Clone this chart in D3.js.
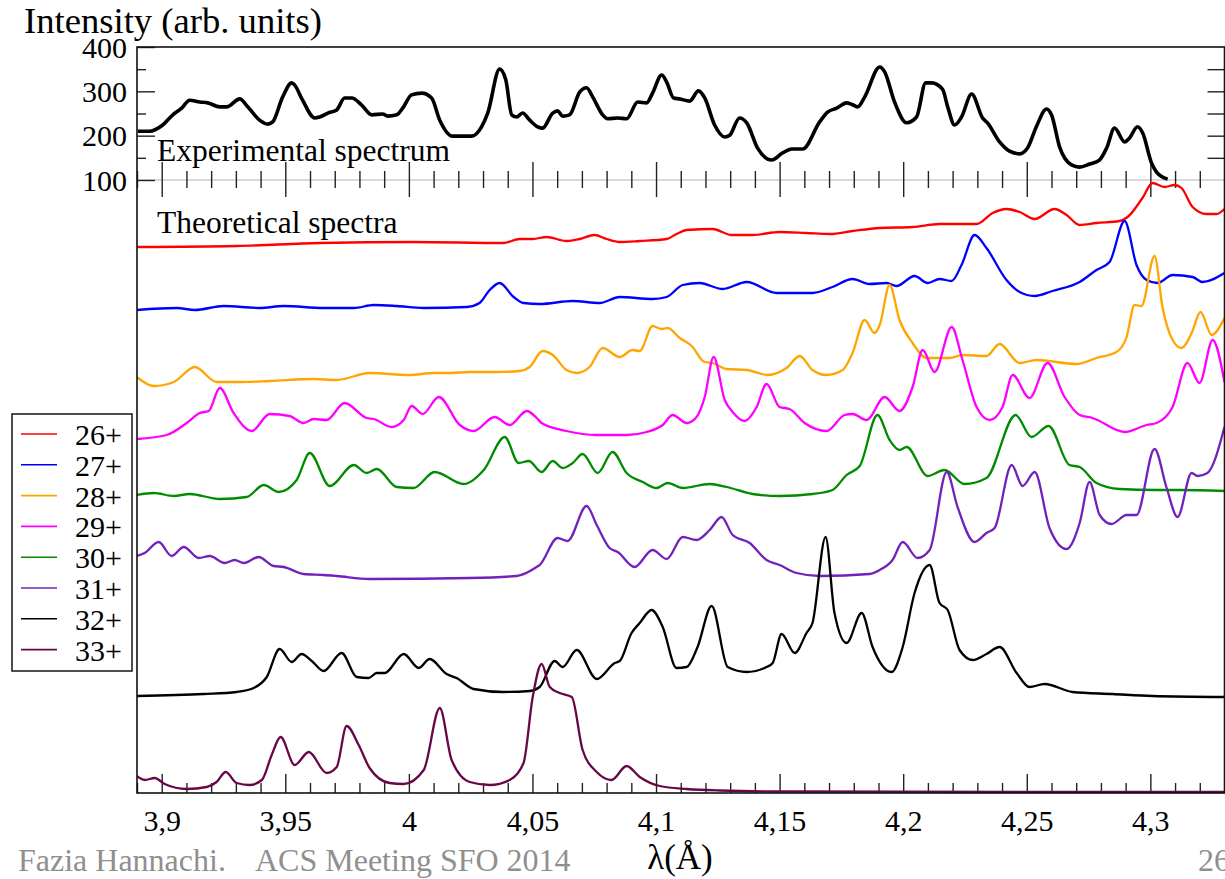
<!DOCTYPE html>
<html>
<head>
<meta charset="utf-8">
<script src="https://cdn.jsdelivr.net/npm/d3@7"></script>
<style>
  html, body { margin: 0; padding: 0; background: #fff; overflow: hidden; }
  svg { display: block; font-family: "Liberation Serif", "Times New Roman", serif; }
</style>
</head>
<body>
<svg id="chart" width="1225" height="879"></svg>
<script>
// ---- Experimental spectrum: [wavelength (Å), intensity (arb. units)] ----
const expSpectrum = [
  [3.8903,210],[3.8951,210],[3.9004,224],[3.9045,247],[3.9081,262],[3.9113,280],[3.9154,276],[3.9186,274],
  [3.9235,265],[3.9263,265],[3.9316,283],[3.9348,265],[3.9396,235],[3.9429,226],[3.9449,231],[3.9489,287],
  [3.9526,319],[3.9538,314],[3.9570,280],[3.9619,240],[3.9639,242],[3.9672,251],[3.9708,258],[3.9740,285],
  [3.9769,285],[3.9809,269],[3.9850,247],[3.9894,249],[3.9914,244],[3.9951,247],[3.9975,262],[4.0011,292],
  [4.0052,296],[4.0092,285],[4.0125,235],[4.0177,199],[4.0254,199],[4.0294,220],[4.0319,251],[4.0367,350],
  [4.0392,326],[4.0416,247],[4.0436,242],[4.0460,251],[4.0489,235],[4.0521,220],[4.0541,217],[4.0582,251],
  [4.0602,256],[4.0622,244],[4.0650,247],[4.0691,298],[4.0719,308],[4.0744,287],[4.0784,247],[4.0804,238],
  [4.0845,240],[4.0881,238],[4.0926,276],[4.0962,274],[4.0986,296],[4.1023,337],[4.1043,321],[4.1071,285],
  [4.1095,283],[4.1136,278],[4.1172,301],[4.1197,285],[4.1237,224],[4.1278,197],[4.1298,201],[4.1338,240],
  [4.1367,229],[4.1411,172],[4.1468,145],[4.1512,161],[4.1549,170],[4.1593,170],[4.1662,231],[4.1694,253],
  [4.1731,262],[4.1771,274],[4.1791,271],[4.1816,265],[4.1844,287],[4.1905,355],[4.1925,344],[4.1965,276],
  [4.2014,229],[4.2054,242],[4.2091,319],[4.2115,319],[4.2159,305],[4.2180,265],[4.2208,224],[4.2236,242],
  [4.2277,294],[4.2321,240],[4.2341,229],[4.2390,186],[4.2430,165],[4.2471,159],[4.2503,172],[4.2540,222],
  [4.2580,260],[4.2600,247],[4.2633,174],[4.2681,134],[4.2714,129],[4.2754,136],[4.2794,145],[4.2823,172],
  [4.2855,217],[4.2896,186],[4.2916,195],[4.2948,220],[4.2969,206],[4.3005,138],[4.3025,118],[4.3070,102]
];

// ---- Theoretical spectra: [wavelength (Å), intensity above the curve's own baseline] ----
const ion26 = [
  [3.8899,0],[3.9303,1],[3.9639,4],[4.0019,5],[4.0383,4],[4.0448,8],[4.0501,8],[4.0557,10],[4.0638,6],
  [4.0691,8],[4.0752,12],[4.0800,8],[4.0853,5],[4.0934,6],[4.1043,8],[4.1083,13],[4.1124,17],[4.1229,18],
  [4.1306,12],[4.1391,12],[4.1500,15],[4.1609,14],[4.1702,13],[4.1795,16],[4.1905,19],[4.2038,20],
  [4.2147,23],[4.2297,23],[4.2362,34],[4.2418,38],[4.2471,35],[4.2532,28],[4.2612,38],[4.2661,32],
  [4.2714,22],[4.2782,24],[4.2875,26],[4.2908,30],[4.2968,49],[4.3009,64],[4.3057,60],[4.3098,62],
  [4.3126,59],[4.3171,40],[4.3227,33],[4.3268,33],[4.3300,38]
];
const ion27 = [
  [3.8899,0],[3.9061,2],[3.9134,0],[3.9251,4],[3.9396,2],[3.9494,4],[3.9655,2],[3.9777,2],[3.9858,5],
  [3.9951,4],[4.0060,2],[4.0234,3],[4.0286,7],[4.0327,20],[4.0367,27],[4.0424,13],[4.0464,7],[4.0529,6],
  [4.0663,9],[4.0772,7],[4.0853,13],[4.0986,11],[4.1043,13],[4.1108,25],[4.1176,27],[4.1269,21],
  [4.1367,28],[4.1488,17],[4.1633,17],[4.1714,23],[4.1795,31],[4.1864,26],[4.1933,27],[4.1973,24],
  [4.2046,34],[4.2099,27],[4.2147,31],[4.2196,29],[4.2236,45],[4.2289,75],[4.2337,62],[4.2418,30],
  [4.2471,18],[4.2532,14],[4.2604,19],[4.2714,28],[4.2782,40],[4.2835,48],[4.2896,89],[4.2944,45],
  [4.2985,30],[4.3029,27],[4.3090,35],[4.3171,33],[4.3211,28],[4.3300,37]
];
const ion28 = [
  [3.8899,5],[3.8968,-4],[3.9049,0],[3.9134,15],[3.9222,0],[3.9303,0],[3.9437,1],[3.9615,3],[3.9708,2],
  [3.9841,9],[4.0003,7],[4.0100,9],[4.0165,9],[4.0246,10],[4.0355,10],[4.0448,11],[4.0489,15],[4.0541,31],
  [4.0582,27],[4.0638,12],[4.0679,9],[4.0731,15],[4.0784,34],[4.0853,25],[4.0905,32],[4.0934,31],
  [4.0986,56],[4.1023,53],[4.1047,54],[4.1096,44],[4.1144,36],[4.1197,20],[4.1229,19],[4.1286,13],
  [4.1367,12],[4.1451,7],[4.1528,14],[4.1581,26],[4.1633,12],[4.1690,7],[4.1755,12],[4.1795,29],
  [4.1844,62],[4.1884,49],[4.1905,57],[4.1945,97],[4.1985,62],[4.2038,39],[4.2095,24],[4.2188,24],
  [4.2240,27],[4.2337,26],[4.2390,38],[4.2471,19],[4.2540,22],[4.2701,18],[4.2782,24],[4.2863,30],
  [4.2904,45],[4.2936,77],[4.2964,76],[4.3017,126],[4.3049,75],[4.3090,42],[4.3126,34],[4.3167,49],
  [4.3203,70],[4.3248,47],[4.3300,64]
];
const ion29 = [
  [3.8899,-2],[3.9020,2],[3.9101,14],[3.9154,24],[3.9190,26],[3.9235,49],[3.9291,24],[3.9364,6],
  [3.9437,23],[3.9518,21],[3.9574,14],[3.9615,18],[3.9667,17],[3.9740,34],[3.9829,19],[3.9858,18],
  [3.9930,10],[3.9979,17],[4.0011,31],[4.0056,23],[4.0121,40],[4.0206,12],[4.0262,6],[4.0347,20],
  [4.0408,12],[4.0477,26],[4.0517,19],[4.0537,14],[4.0638,6],[4.0760,2],[4.0881,2],[4.0962,5],
  [4.1027,12],[4.1067,22],[4.1124,14],[4.1164,20],[4.1197,40],[4.1233,80],[4.1278,37],[4.1310,25],
  [4.1358,16],[4.1407,30],[4.1447,53],[4.1500,30],[4.1540,28],[4.1601,14],[4.1690,6],[4.1763,22],
  [4.1795,23],[4.1852,17],[4.1925,40],[4.1985,26],[4.2038,50],[4.2079,87],[4.2127,65],[4.2196,110],
  [4.2240,77],[4.2297,30],[4.2350,17],[4.2402,30],[4.2443,62],[4.2511,39],[4.2584,74],[4.2653,40],
  [4.2714,22],[4.2766,19],[4.2896,5],[4.2985,12],[4.3025,14],[4.3090,30],[4.3150,74],[4.3199,54],
  [4.3252,97],[4.3300,55]
];
const ion30 = [
  [3.8899,-1],[3.8968,1],[3.9049,-2],[3.9113,0],[3.9235,-5],[3.9344,-3],[3.9413,9],[3.9473,2],[3.9546,14],
  [3.9599,41],[3.9680,8],[3.9777,29],[3.9829,21],[3.9870,25],[3.9951,7],[4.0019,6],[4.0104,22],[4.0222,10],
  [4.0303,24],[4.0388,57],[4.0444,31],[4.0485,33],[4.0537,22],[4.0582,33],[4.0622,26],[4.0663,31],
  [4.0703,40],[4.0764,21],[4.0824,42],[4.0881,21],[4.0946,12],[4.1002,6],[4.1047,11],[4.1108,6],
  [4.1217,10],[4.1286,7],[4.1391,0],[4.1500,-2],[4.1633,0],[4.1714,4],[4.1771,19],[4.1824,28],
  [4.1896,79],[4.1945,54],[4.1985,44],[4.2014,47],[4.2099,18],[4.2167,24],[4.2248,10],[4.2337,16],
  [4.2455,79],[4.2519,57],[4.2588,68],[4.2673,29],[4.2714,27],[4.2782,11],[4.2875,5],[4.3025,4],
  [4.3118,4],[4.3300,3]
];
const ion31 = [
  [3.8899,21],[3.8931,24],[3.8988,35],[3.9040,21],[3.9089,30],[3.9150,19],[3.9194,21],[3.9255,14],
  [3.9295,17],[3.9332,14],[3.9392,20],[3.9453,11],[3.9494,10],[3.9574,3],[3.9655,2],[3.9708,1],
  [3.9841,-2],[4.0246,-1],[4.0436,1],[4.0517,10],[4.0529,12],[4.0602,39],[4.0642,36],[4.0719,71],
  [4.0760,52],[4.0812,29],[4.0845,25],[4.0913,10],[4.0986,27],[4.1043,18],[4.1108,40],[4.1164,37],
  [4.1217,47],[4.1265,60],[4.1310,42],[4.1379,34],[4.1447,17],[4.1500,12],[4.1569,4],[4.1662,1],
  [4.1864,3],[4.1905,7],[4.1957,17],[4.1998,35],[4.2058,19],[4.2107,27],[4.2176,105],[4.2220,70],
  [4.2289,35],[4.2337,44],[4.2370,49],[4.2439,112],[4.2483,91],[4.2532,105],[4.2592,49],[4.2661,28],
  [4.2714,54],[4.2754,95],[4.2795,62],[4.2843,53],[4.2904,62],[4.2944,62],[4.3017,128],[4.3066,89],
  [4.3110,60],[4.3167,104],[4.3191,101],[4.3231,104],[4.3300,150]
];
const ion32 = [
  [3.8899,-1],[3.9170,1],[3.9303,3],[3.9372,7],[3.9425,18],[3.9477,46],[3.9526,33],[3.9566,41],
  [3.9607,34],[3.9655,24],[3.9728,42],[3.9789,18],[3.9837,17],[3.9870,22],[3.9902,22],[3.9979,41],
  [4.0040,27],[4.0084,36],[4.0153,21],[4.0193,17],[4.0262,6],[4.0383,3],[4.0489,4],[4.0529,8],
  [4.0590,34],[4.0622,28],[4.0679,45],[4.0760,16],[4.0833,32],[4.0853,34],[4.0901,62],[4.0934,72],
  [4.0982,85],[4.1027,68],[4.1083,27],[4.1124,28],[4.1168,48],[4.1225,89],[4.1290,28],[4.1367,23],
  [4.1447,28],[4.1472,32],[4.1508,61],[4.1561,42],[4.1609,62],[4.1633,72],[4.1686,158],[4.1722,82],
  [4.1771,52],[4.1832,82],[4.1876,48],[4.1953,23],[4.1998,48],[4.2046,102],[4.2107,130],[4.2147,92],
  [4.2180,85],[4.2228,45],[4.2281,35],[4.2337,41],[4.2390,48],[4.2459,22],[4.2511,8],[4.2572,11],
  [4.2685,3],[4.2847,1],[4.3009,-1],[4.3300,-2]
];
const ion33 = [
  [3.8899,15],[3.8931,11],[3.8972,13],[3.9012,7],[3.9101,2],[3.9182,4],[3.9222,9],[3.9259,19],
  [3.9303,8],[3.9356,6],[3.9405,11],[3.9445,36],[3.9481,54],[3.9538,26],[3.9595,39],[3.9667,18],
  [3.9708,24],[3.9748,65],[3.9797,46],[3.9841,23],[3.9922,8],[3.9979,7],[4.0060,21],[4.0125,83],
  [4.0173,31],[4.0246,9],[4.0327,6],[4.0408,11],[4.0464,28],[4.0501,94],[4.0537,127],[4.0570,104],
  [4.0610,98],[4.0659,94],[4.0703,41],[4.0760,19],[4.0820,11],[4.0881,25],[4.0934,14],[4.1015,5],
  [4.1124,2],[4.1257,0.5],[4.1528,-0.5],[4.3300,-1]
];

const ionLabels  = ["26+", "27+", "28+", "29+", "30+", "31+", "32+", "33+"];
const ionSpectra = [ion26, ion27, ion28, ion29, ion30, ion31, ion32, ion33];
const ionOffsets = [546, 483, 411, 356, 299, 216, 98, 2];
const ionColors  = ["#ff0000", "#0000ff", "#ffa500", "#ff00ff", "#008b00", "#7221bc", "#000000", "#670748"];

const expTickValues = [100, 200, 300, 400];
const xTickLabels   = ["3,9", "3,95", "4", "4,05", "4,1", "4,15", "4,2", "4,25", "4,3"];
const xTickValues   = [3.90, 3.95, 4.00, 4.05, 4.10, 4.15, 4.20, 4.25, 4.30];

(function draw() {
  const svg = d3.select("#chart");
  const plotL = 137, plotR = 1224.5, plotT = 47, plotB = 793, expAxisY = 180;

  const x = d3.scaleLinear().domain([3.89, 4.33]).range([plotL, plotR]);
  const yExp = d3.scaleLinear().domain([100, 400]).range([expAxisY, plotT]);
  const yTheo = d3.scaleLinear().domain([0, 613]).range([plotB, expAxisY]);

  const minorX = d3.range(389, 434).map(i => i / 100)
    .filter(v => !xTickValues.some(t => Math.abs(t - v) < 1e-6));

  svg.append("defs").append("clipPath").attr("id", "plotClip")
    .append("rect").attr("x", plotL).attr("y", plotT)
    .attr("width", plotR - plotL).attr("height", plotB - plotT);

  // horizontal reference line of the experimental panel
  svg.append("line")
    .attr("x1", plotL).attr("x2", plotR).attr("y1", expAxisY).attr("y2", expAxisY)
    .attr("stroke", "#b4b4b4").attr("stroke-width", 1.2);

  function styleAxis(g) {
    g.select(".domain").remove();
    g.selectAll(".tick line").attr("stroke", "#222").attr("stroke-width", 1.4);
    g.selectAll(".tick text").attr("fill", "#000")
      .attr("font-family", "Liberation Serif, Times New Roman, serif");
  }

  // x ticks crossing the experimental reference line
  const expMajor = svg.append("g").attr("transform", `translate(0,${expAxisY})`)
    .call(d3.axisBottom(x).tickValues(xTickValues).tickFormat("").tickSize(0));
  styleAxis(expMajor);
  expMajor.selectAll(".tick line").attr("y1", -18).attr("y2", 17);
  const expMinor = svg.append("g").attr("transform", `translate(0,${expAxisY})`)
    .call(d3.axisBottom(x).tickValues(minorX).tickFormat("").tickSize(0));
  styleAxis(expMinor);
  expMinor.selectAll(".tick line").attr("y1", -9).attr("y2", 8);

  // left intensity axis (ticks drawn inward)
  const yLeft = svg.append("g").attr("transform", `translate(${plotL},0)`)
    .call(d3.axisLeft(yExp).tickValues(expTickValues).tickFormat(d3.format("d"))
      .tickSizeInner(-18).tickSizeOuter(0).tickPadding(10));
  styleAxis(yLeft);
  yLeft.selectAll(".tick text").attr("font-size", 30).attr("dy", "0.34em");
  const yLeftMinor = svg.append("g").attr("transform", `translate(${plotL},0)`)
    .call(d3.axisLeft(yExp).tickValues([150, 250, 350]).tickFormat("").tickSizeInner(-9).tickSizeOuter(0));
  styleAxis(yLeftMinor);

  // right intensity axis
  const yRight = svg.append("g").attr("transform", `translate(${plotR},0)`)
    .call(d3.axisRight(yExp).tickValues([150, 200, 250, 300, 350]).tickFormat("")
      .tickSizeInner(-17).tickSizeOuter(0));
  styleAxis(yRight);

  // bottom wavelength axis
  const xAxis = svg.append("g").attr("transform", `translate(0,${plotB})`)
    .call(d3.axisBottom(x).tickValues(xTickValues).tickFormat((d, i) => xTickLabels[i])
      .tickSizeInner(-19).tickSizeOuter(0).tickPadding(0));
  styleAxis(xAxis);
  xAxis.selectAll(".tick text").attr("font-size", 30).attr("dy", 0).attr("y", 38);
  const xMinor = svg.append("g").attr("transform", `translate(0,${plotB})`)
    .call(d3.axisBottom(x).tickValues(minorX).tickFormat("").tickSizeInner(-10).tickSizeOuter(0));
  styleAxis(xMinor);

  // theoretical spectra, stacked on their baselines
  const theo = svg.append("g").attr("clip-path", "url(#plotClip)");
  ionSpectra.forEach((series, i) => {
    const line = d3.line().curve(d3.curveMonotoneX)
      .x(d => x(d[0])).y(d => yTheo(ionOffsets[i] + d[1]));
    theo.append("path")
      .datum(series)
      .attr("fill", "none")
      .attr("stroke", ionColors[i])
      .attr("stroke-width", 2.3)
      .attr("stroke-linejoin", "round")
      .attr("d", line);
  });

  // experimental spectrum
  svg.append("g").attr("clip-path", "url(#plotClip)").append("path")
    .datum(expSpectrum)
    .attr("fill", "none")
    .attr("stroke", "#000")
    .attr("stroke-width", 3.6)
    .attr("stroke-linejoin", "round")
    .attr("d", d3.line().curve(d3.curveMonotoneX).x(d => x(d[0])).y(d => yExp(d[1])));

  // frame
  svg.append("rect")
    .attr("x", plotL).attr("y", plotT).attr("width", plotR - plotL).attr("height", plotB - plotT)
    .attr("fill", "none").attr("stroke", "#111").attr("stroke-width", 1.6);

  // panel captions
  svg.append("text").attr("x", 157).attr("y", 161).attr("font-size", 31.5).text("Experimental spectrum");
  svg.append("text").attr("x", 157).attr("y", 233).attr("font-size", 31.5).text("Theoretical spectra");

  // axis titles
  svg.append("text").attr("x", 24).attr("y", 33).attr("font-size", 35)
    .attr("textLength", 298).attr("lengthAdjust", "spacingAndGlyphs")
    .text("Intensity (arb. units)");
  svg.append("text").attr("x", 680).attr("y", 869).attr("font-size", 35)
    .attr("text-anchor", "middle").text("λ(Å)");

  // legend
  const legend = svg.append("g");
  legend.append("rect").attr("x", 12).attr("y", 414).attr("width", 120).attr("height", 257)
    .attr("fill", "#fff").attr("stroke", "#222").attr("stroke-width", 1.6);
  ionLabels.forEach((lab, i) => {
    const ly = 434 + i * 30.8;
    legend.append("line").attr("x1", 21).attr("x2", 57).attr("y1", ly).attr("y2", ly)
      .attr("stroke", ionColors[i]).attr("stroke-width", 1.6);
    legend.append("text").attr("x", 75).attr("y", ly + 11).attr("font-size", 30).text(lab);
  });

  // footer
  const footer = svg.append("g").attr("fill", "#8f8f8f").attr("font-size", 32);
  footer.append("text").attr("x", 18).attr("y", 871).text("Fazia Hannachi.");
  footer.append("text").attr("x", 255).attr("y", 871).text("ACS Meeting SFO 2014");
  footer.append("text").attr("x", 1198).attr("y", 871).text("26");
})();
</script>
</body>
</html>
